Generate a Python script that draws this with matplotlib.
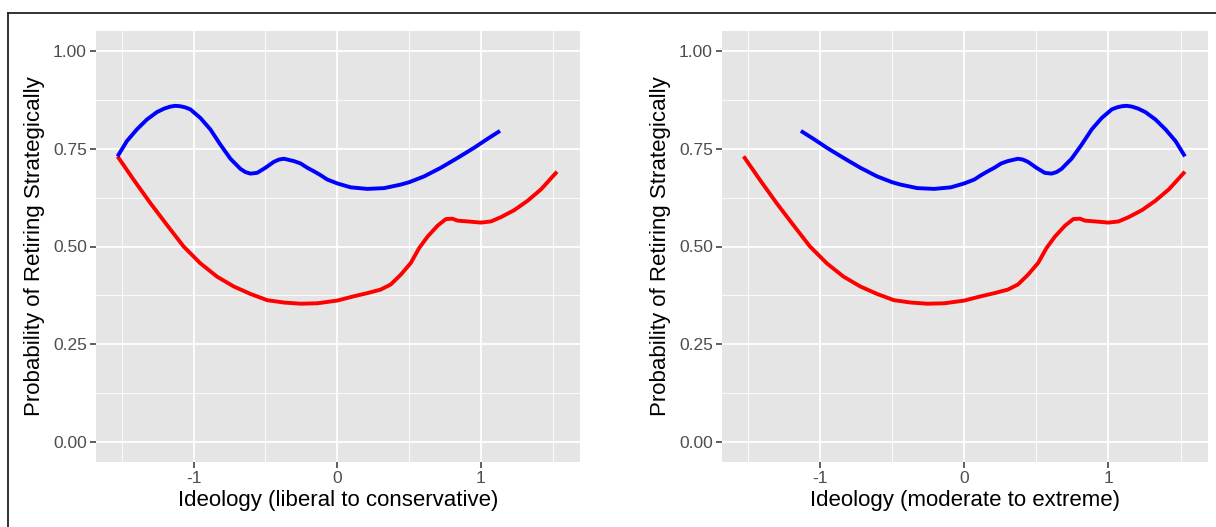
import numpy as np
import matplotlib
matplotlib.use("Agg")
import matplotlib.pyplot as plt
from matplotlib.lines import Line2D
from matplotlib.ticker import MultipleLocator

plt.rcParams["font.family"] = ["Liberation Sans", "DejaVu Sans"]

# Predicted probability of strategic retirement along ideology
red_x = [-1.530, -1.419, -1.302, -1.186, -1.070, -0.953, -0.837, -0.721, -0.605,
         -0.488, -0.372, -0.256, -0.140, 0.0, 0.116, 0.209, 0.302, 0.372, 0.442,
         0.512, 0.570, 0.628, 0.698, 0.756, 0.802, 0.837, 0.907, 1.0, 1.070,
         1.140, 1.233, 1.326, 1.419, 1.530]
red_y = [0.730, 0.671, 0.611, 0.555, 0.500, 0.457, 0.423, 0.398, 0.379,
         0.363, 0.357, 0.354, 0.355, 0.362, 0.373, 0.381, 0.390, 0.403, 0.428,
         0.458, 0.496, 0.525, 0.553, 0.570, 0.571, 0.566, 0.564, 0.561, 0.564,
         0.575, 0.593, 0.617, 0.646, 0.691]

blue_x = [-1.530, -1.465, -1.395, -1.326, -1.256, -1.205, -1.163, -1.128, -1.093,
          -1.058, -1.023, -0.953, -0.884, -0.814, -0.744, -0.674, -0.640, -0.605,
          -0.558, -0.500, -0.442, -0.405, -0.372, -0.302, -0.256, -0.209, -0.163,
          -0.116, -0.070, 0.0, 0.093, 0.209, 0.326, 0.442, 0.500, 0.605, 0.721,
          0.837, 0.953, 1.047, 1.133]
blue_y = [0.730, 0.769, 0.799, 0.824, 0.843, 0.852, 0.857, 0.859, 0.858,
          0.855, 0.850, 0.828, 0.799, 0.760, 0.724, 0.698, 0.690, 0.686,
          0.688, 0.701, 0.716, 0.722, 0.724, 0.718, 0.712, 0.701, 0.692,
          0.682, 0.671, 0.661, 0.651, 0.647, 0.649, 0.658, 0.664, 0.679, 0.701,
          0.726, 0.752, 0.775, 0.795]

# moderate-to-extreme scale: the blue curve runs the other way
blue_x_ext = [-v for v in blue_x]

panels = [
    ("Ideology (liberal to conservative)", red_x, red_y, blue_x, blue_y),
    ("Ideology (moderate to extreme)", red_x, red_y, blue_x_ext, blue_y),
]

W, H = 1216, 527
fig = plt.figure(figsize=(W / 100, H / 100), dpi=100)

axes_px = [(96, 31, 580, 462), (722, 31, 1208, 462)]

for (x0, y0, x1, y1), (xlab, rx, ry, bx, by) in zip(axes_px, panels):
    ax = fig.add_axes([x0 / W, 1 - y1 / H, (x1 - x0) / W, (y1 - y0) / H])
    ax.set_facecolor("#E5E5E5")
    for s in ax.spines.values():
        s.set_visible(False)

    ax.plot(rx, ry, color="#FF0000", lw=2.8, solid_capstyle="butt",
            solid_joinstyle="round", zorder=3)
    ax.plot(bx, by, color="#0000FF", lw=2.8, solid_capstyle="butt",
            solid_joinstyle="round", zorder=3)

    ax.set_xlim(-1.68, 1.69)
    ax.set_ylim(-0.05, 1.05)
    ax.xaxis.set_minor_locator(MultipleLocator(0.5))
    ax.set_xticks([-1, 0, 1])
    ax.set_xticklabels(["-1", "0", "1"])
    ax.set_yticks([0, 0.25, 0.5, 0.75, 1.0])
    ax.set_yticks([0.125, 0.375, 0.625, 0.875], minor=True)
    ax.set_yticklabels(["0.00", "0.25", "0.50", "0.75", "1.00"])

    ax.grid(which="major", color="white", lw=1.3)
    ax.grid(which="minor", color="white", lw=0.6)
    ax.set_axisbelow(True)

    ax.tick_params(which="major", length=4, width=1.1, color="#333333",
                   labelcolor="#4D4D4D", labelsize=12.5, pad=2.5)
    ax.tick_params(which="minor", length=0)

    ax.set_xlabel(xlab, fontsize=16, color="black", labelpad=3)
    ax.set_ylabel("Probability of Retiring Strategically", fontsize=16,
                  color="black", labelpad=6)

# outer frame along the top and left edge
fig.add_artist(Line2D([8 / W, 8 / W], [0, 1 - 13 / H], transform=fig.transFigure,
                      color="#222222", lw=1.3))
fig.add_artist(Line2D([8 / W, 1], [1 - 13 / H, 1 - 13 / H], transform=fig.transFigure,
                      color="#222222", lw=1.3))

fig.savefig("out.png", dpi=100)
